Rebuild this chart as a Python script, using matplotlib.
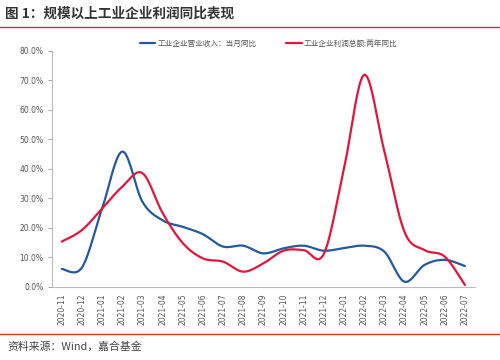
import numpy as np
import matplotlib
matplotlib.use("Agg")
import matplotlib.pyplot as plt
from matplotlib.ticker import FuncFormatter

plt.rcParams['font.family'] = ['Noto Sans CJK SC', 'DejaVu Sans']

months = ["2020-11", "2020-12", "2021-01", "2021-02", "2021-03", "2021-04", "2021-05",
          "2021-06", "2021-07", "2021-08", "2021-09", "2021-10", "2021-11", "2021-12",
          "2022-01", "2022-02", "2022-03", "2022-04", "2022-05", "2022-06", "2022-07"]
revenue_yoy = [6.0, 6.5, 26.5, 45.8, 28.8, 22.5, 20.3, 17.8, 13.6, 13.9, 11.3, 13.0,
               13.9, 12.2, 13.1, 13.9, 11.9, 1.7, 7.4, 9.1, 7.0]
profit_2y = [15.3, 19.2, 26.5, 33.9, 38.5, 25.0, 14.8, 9.6, 8.5, 5.1, 7.9, 12.2,
             12.4, 11.1, 40.0, 71.8, 46.0, 18.6, 12.4, 10.2, 0.6]
series_names = ["工业企业营业收入：当月同比", "工业企业利润总额:两年同比"]
title = "图 1：规模以上工业企业利润同比表现"
source = "资料来源：Wind，嘉合基金"

BLUE = '#245A9B'
RED = '#E0163C'


def smooth(y, n=20):
    y = np.asarray(y, float)
    x = np.arange(len(y), dtype=float)
    P = np.concatenate([[y[0]], y, [y[-1]]])
    X = np.concatenate([[x[0]], x, [x[-1]]])
    xs, ys = [], []
    for i in range(1, len(P) - 2):
        p0, p1, p2, p3 = P[i-1], P[i], P[i+1], P[i+2]
        q0, q1, q2, q3 = X[i-1], X[i], X[i+1], X[i+2]
        t = np.linspace(0, 1, n, endpoint=False)
        b1y = p1 + (p2 - p0) / 6.0
        b2y = p2 - (p3 - p1) / 6.0
        b1x = q1 + (q2 - q0) / 6.0
        b2x = q2 - (q3 - q1) / 6.0
        yy = (1-t)**3*p1 + 3*(1-t)**2*t*b1y + 3*(1-t)*t**2*b2y + t**3*p2
        xx = (1-t)**3*q1 + 3*(1-t)**2*t*b1x + 3*(1-t)*t**2*b2x + t**3*q2
        xs.append(xx); ys.append(yy)
    xs.append([X[-2]]); ys.append([P[-2]])
    return np.concatenate(xs), np.concatenate(ys)


fig = plt.figure(figsize=(5, 3.6), dpi=100)
ax = fig.add_axes([0.1034, 0.2036, 0.8466, 0.6556])

sx, sy = smooth(revenue_yoy)
ax.plot(sx, sy, color=BLUE, lw=1.6, label=series_names[0], solid_capstyle='round')
sx, sy = smooth(profit_2y)
ax.plot(sx, sy, color=RED, lw=1.6, label=series_names[1], solid_capstyle='round')

ax.set_xlim(-0.5, len(months) - 0.5)
ax.set_ylim(0, 80)
ax.set_yticks(np.arange(0, 81, 10))
ax.yaxis.set_major_formatter(FuncFormatter(lambda v, p: f"{v:.1f}%"))
ax.set_xticks(range(len(months)))
ax.set_xticklabels(months, rotation=90, fontsize=5.5, color='#555555',
                   family=['DejaVu Sans'])
for lab in ax.get_yticklabels():
    lab.set_fontsize(5.5)
    lab.set_color('#555555')
    lab.set_family(['DejaVu Sans'])
ax.tick_params(axis='x', length=0, pad=5)
ax.tick_params(axis='y', length=3, width=0.6, color='#999999', pad=3)
for s in ['top', 'right']:
    ax.spines[s].set_visible(False)
for s in ['left', 'bottom']:
    ax.spines[s].set_color('#BBBBBB')
    ax.spines[s].set_linewidth(0.8)

leg = ax.legend(loc='lower left', bbox_to_anchor=(0.205, 1.005), ncol=2, frameon=False,
                fontsize=5.5, handlelength=2.0, handletextpad=0.3, columnspacing=3.9,
                borderaxespad=0, borderpad=0.2)
for t in leg.get_texts():
    t.set_color('#555555')

fig.text(0.01, 1 - 14/360, title, fontsize=9.8, fontweight='bold', color='#333333',
         va='center', ha='left')
fig.add_artist(plt.Line2D([0, 1], [1 - 27/360, 1 - 27/360], color='#C0392B', lw=1.0))
fig.add_artist(plt.Line2D([0, 1], [1 - 334/360, 1 - 334/360], color='#C0392B', lw=1.0))
fig.text(0.014, 1 - 347/360, source, fontsize=7.8, color='#444444', va='center', ha='left')

fig.savefig('out.png', dpi=100)
